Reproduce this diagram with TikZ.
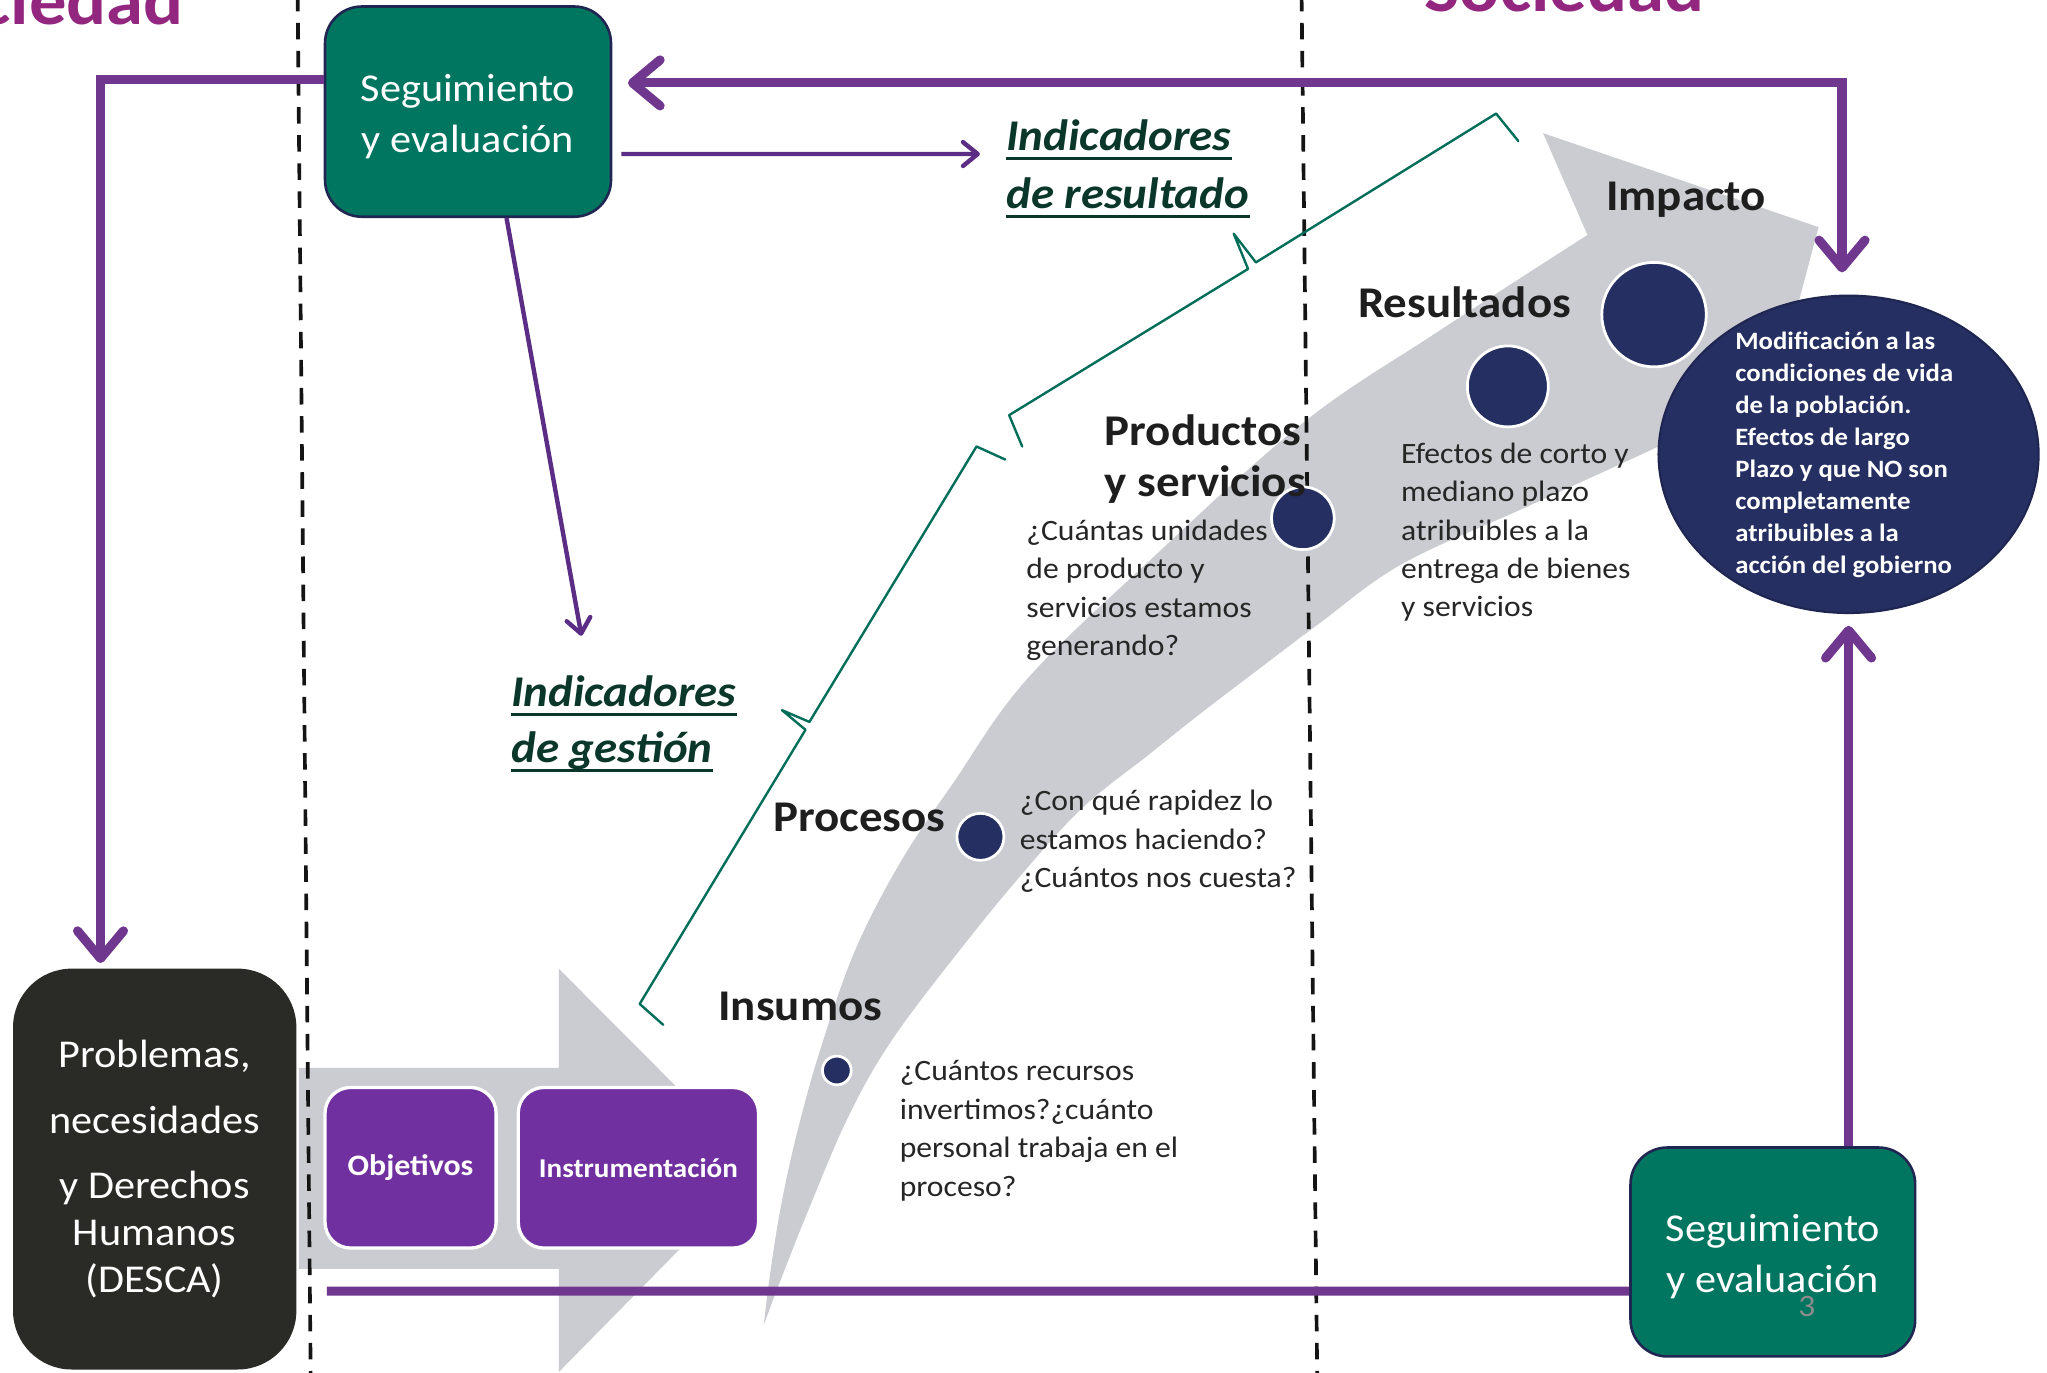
\documentclass[tikz,border=0pt]{standalone}
\usepackage{fontspec}
\setmainfont{Carlito}[FakeStretch=1.07]
\usetikzlibrary{arrows.meta,calc,shapes.geometric}
\definecolor{sgreen}{RGB}{0,117,96}
\definecolor{snavyb}{RGB}{31,38,82}
\definecolor{sblack}{RGB}{42,43,38}
\definecolor{spurple}{RGB}{112,48,160}
\definecolor{sarrow}{RGB}{112,55,143}
\definecolor{sarrowthin}{RGB}{92,45,132}
\definecolor{snavy}{RGB}{37,47,97}
\definecolor{sgrayfill}{RGB}{203,204,209}
\definecolor{stext}{RGB}{30,30,30}
\definecolor{qgray}{RGB}{38,38,38}
\definecolor{sbracket}{RGB}{0,110,88}
\definecolor{sind}{RGB}{10,55,42}
\definecolor{ssoc}{RGB}{147,38,127}
\definecolor{sdash}{RGB}{20,20,20}
\definecolor{pagegray}{RGB}{140,140,140}
\def\pxu{0.7113pt}
\newcommand{\txtlines}[1]{\begin{tabular}[t]{@{}l@{}}#1\end{tabular}}
\newcommand{\ctrlines}[1]{\begin{tabular}[t]{@{}c@{}}#1\end{tabular}}
\tikzset{
 sebox/.style={rectangle, rounded corners=20pt, fill=sgreen, draw=snavyb, line width=1.4pt, text=white, inner sep=0pt, text height=10pt, text depth=21.1pt, font=\fontsize{21.5pt}{27.7pt}\selectfont},
 probbox/.style={rectangle, rounded corners=32pt, fill=sblack, text=white, align=center, inner sep=0pt, font=\fontsize{21.5pt}{25.6pt}\selectfont},
 pbox/.style={rectangle, rounded corners=14pt, fill=spurple, draw=white, line width=1.8pt, text=white, inner sep=0pt},
 dot/.style={circle, fill=snavy, draw=white, line width=1.5pt, inner sep=0pt},
 lbl/.style={inner sep=0pt, text=stext, font=\fontsize{23.9pt}{28.1pt}\selectfont\bfseries},
 qtxt/.style={inner sep=0pt, text=qgray, font=\fontsize{16.1pt}{20.9pt}\selectfont},
 ind/.style={inner sep=0pt, text=sind, font=\fontsize{23.9pt}{31pt}\selectfont\bfseries\itshape},
 uline/.style={draw=sind, line width=1.7pt},
 soc/.style={inner sep=0pt, text=ssoc, font=\fontsize{38pt}{45pt}\selectfont\bfseries},
 dashline/.style={draw=sdash, line width=2pt, dash pattern=on 9pt off 6.3pt},
 thickline/.style={draw=sarrow, line width=5pt},
 thickbarb/.tip={Straight Barb[length=15pt, width=25pt, round]},
 thinarrow/.style={draw=sarrowthin, line width=2.4pt, -{Straight Barb[length=8pt, width=13pt, round]}},
 bracket/.style={draw=sbracket, line width=1.3pt, line join=round, line cap=round},
 grayshape/.style={fill=sgrayfill},
}
\begin{document}
\begin{tikzpicture}[x=0.025cm, y=-0.025cm]
\useasboundingbox (0,0) rectangle (1568,1051);
\clip (0,0) rectangle (1568,1051);
\fill[white] (0,0) rectangle (1568,1051);

% gray horizontal arrow
\fill[grayshape] (229,818) -- (428,818) -- (428,742) -- (581,895.5) -- (428,1051) -- (428,972) -- (229,972) -- cycle;
% gray curved arrow
\fill[grayshape] plot[smooth, tension=0.6] coordinates {(585,1015) (590,975) (598,925) (610,870) (628,805) (655,728) (690,660) (730,600) (786,521) (880,430) (998,324) (1100,255) (1216,180)}
  -- (1182,102) -- (1393,174) -- (1325,430)
  -- plot[smooth, tension=0.6] coordinates {(1283,335) (1264,345) (1170,388) (1074,432) (1010,478) (957,518) (919,547) (880,578) (830,618) (785,667) (735,728) (683,797) (650,855) (620,925) (597,983) (585,1015)} -- cycle;

% dashed separators
\draw[dashline] (228,-4) -- (238,1056);
\draw[dashline] (997,-4) -- (1009,1056);

% partial headings at the top edge
\node[soc, anchor=base east] (socl) at (141,19) {Sociedad};
\node[soc, anchor=base west] (socr) at (1091,9) {Sociedad};

% boxes
\node[sebox, minimum width=219*\pxu, minimum height=161*\pxu] (sb1) at (358.5,85.5) {\ctrlines{Seguimiento\\y evaluación}};
\node[sebox, minimum width=218*\pxu, minimum height=160*\pxu] (sb2) at (1358,959) {\ctrlines{Seguimiento\\y evaluación}};
\node[inner sep=0pt, text=pagegray, font=\fontsize{17pt}{20pt}\selectfont] (pn) at (1384,1001) {3};
\node[probbox, minimum width=217*\pxu, minimum height=307*\pxu] (prob) at (118.5,895.5) {Problemas,\\[10pt]necesidades\\[10pt]y Derechos\\Humanos\\(DESCA)};
\node[pbox, minimum width=131*\pxu, minimum height=123*\pxu, font=\fontsize{16.2pt}{19pt}\selectfont\bfseries] (obj) at (314.5,894.5) {Objetivos};
\node[pbox, minimum width=184*\pxu, minimum height=123*\pxu, font=\fontsize{14.8pt}{18pt}\selectfont\bfseries] (ins) at (489,894.5) {Instrumentación};

% ellipse
\node[ellipse, fill=snavy, draw=snavyb, line width=1.2pt, minimum width=291*\pxu, minimum height=243*\pxu, inner sep=0pt] (ell) at (1416,348) {};
\node[inner sep=0pt, text=white, font=\fontsize{13.6pt}{17.4pt}\selectfont\bfseries, anchor=base west] (elltxt) at (1329,268) {\txtlines{Modificación a las\\condiciones de vida\\de la población.\\Efectos de largo\\Plazo y que NO son\\completamente\\atribuibles a la\\acción del gobierno}};

% dots
\node[dot, minimum size=22*\pxu] (d1) at (641,820) {};
\node[dot, minimum size=36*\pxu] (d2) at (751,641) {};
\node[dot, minimum size=48*\pxu] (d3) at (998,397) {};
\node[dot, minimum size=62*\pxu] (d4) at (1155,296) {};
\node[dot, minimum size=80*\pxu] (d5) at (1267,241) {};

% stage labels
\node[lbl, anchor=base west] (limp) at (1230,161) {Impacto};
\node[lbl, anchor=base west] (lres) at (1040,243) {Resultados};
\node[lbl, anchor=base west] (lprod) at (846,341) {\txtlines{Productos\\y servicios}};
\node[lbl, anchor=base west] (lproc) at (592,637) {Procesos};
\node[lbl, anchor=base west] (lins) at (550,782) {Insumos};

% questions
\node[qtxt, anchor=base west] (qprod) at (786,414) {\txtlines{¿Cuántas unidades\\de producto y\\servicios estamos\\generando?}};
\node[qtxt, anchor=base west] (qres) at (1073,355) {\txtlines{Efectos de corto y\\mediano plazo\\atribuibles a la\\entrega de bienes\\y servicios}};
\node[qtxt, anchor=base west] (qproc) at (781,621) {\txtlines{¿Con qué rapidez lo\\estamos haciendo?\\¿Cuántos nos cuesta?}};
\node[qtxt, anchor=base west] (qins) at (689,828) {\txtlines{¿Cuántos recursos\\invertimos?¿cuánto\\personal trabaja en el\\proceso?}};

% indicators
\node[ind, anchor=base west] (ir1) at (770.6,115) {Indicadores};
\node[ind, anchor=base west] (ir2) at (770.6,159.5) {de resultado};
\node[ind, anchor=base west] (ig1) at (391.4,541) {Indicadores};
\node[ind, anchor=base west] (ig2) at (391.4,584) {de gestión};
\draw[uline] ([yshift=-4.4pt]ir1.base west) -- ([yshift=-4.4pt]ir1.base east);
\draw[uline] ([yshift=-4.4pt]ir2.base west) -- ([yshift=-4.4pt]ir2.base east);
\draw[uline] ([yshift=-4.4pt]ig1.base west) -- ([yshift=-4.4pt]ig1.base east);
\draw[uline] ([yshift=-4.4pt]ig2.base west) -- ([yshift=-4.4pt]ig2.base east);

% brackets
\draw[bracket] (1163,108) -- (1146,87) -- (962,201) -- (945,179) -- (956,206) -- (773,318) -- (783,342);
\draw[bracket] (770,352) -- (748,342) -- (620,553) -- (599,544) -- (617,559) -- (490,769) -- (508,785);

% thick connectors
\draw[thickline, -{thickbarb}] ($(sb1.west)+(0,-24.5)$) -| ($(prob.north)+(-41.5,-4)$);
\draw[thickline, {thickbarb}-{thickbarb}] ($(sb1.east)+(12,-22)$) -| ($(ell.north)+(-5,-17)$);
\draw[thickline] ($(prob.east)+(23,93.5)$) -- ($(sb2.west)+(0,30)$);
\draw[thickline, -{thickbarb}] ($(sb2.north)+(58,0)$) -- ($(ell.south)+(0,9)$);

% thin connectors
\draw[thinarrow] ($(sb1.east)+(7,32.5)$) -- ($(ir1.base west)+(-20,3)$);
\draw[thinarrow] ($(sb1.south)+(29.5,0)$) -- ($(ig1.base west)+(54,-54)$);
\end{tikzpicture}
\end{document}
